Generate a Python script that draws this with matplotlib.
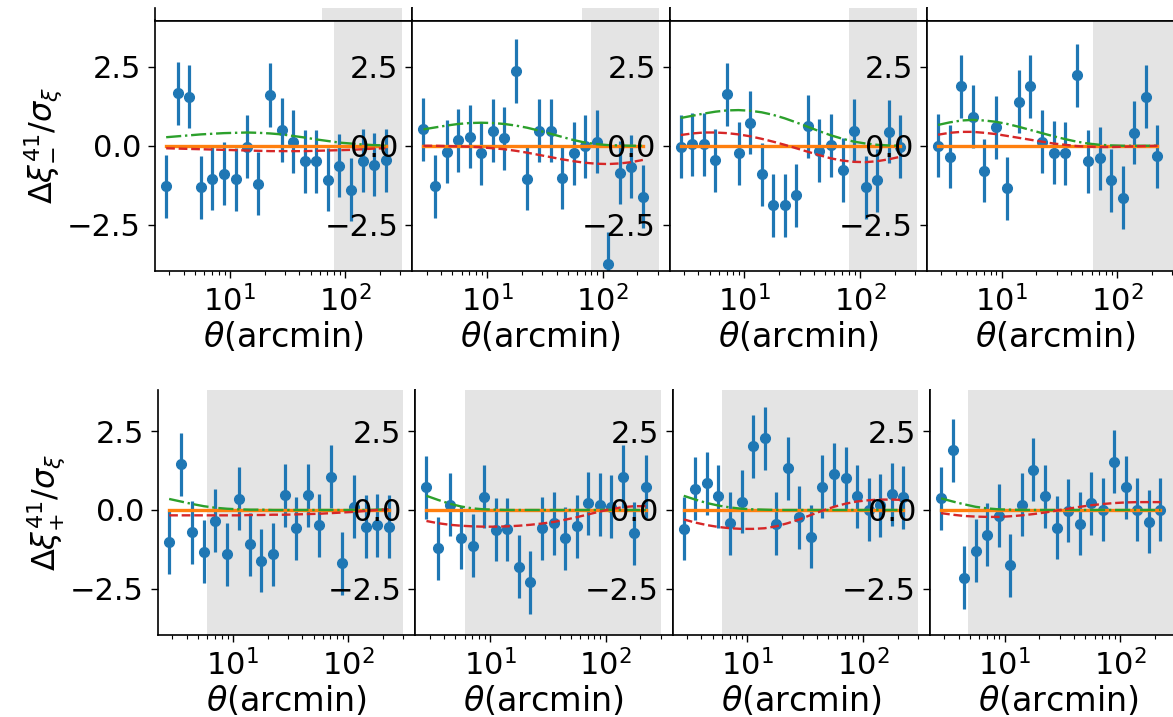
import matplotlib

matplotlib.use("Agg")
import matplotlib.pyplot as plt

# angular bin centres (arcmin)
theta = [2.81, 3.54, 4.46, 5.61, 7.07, 8.89, 11.2, 14.1, 17.7, 22.3,
         28.1, 35.4, 44.6, 56.1, 70.7, 88.9, 112.0, 141.0, 177.0, 223.0]
err = 1.0

# xi_minus residuals, one list per panel
xim_pts = [
    [-1.28, 1.66, 1.56, -1.32, -1.04, -0.88, -1.06, -0.03, -1.20, 1.61,
     0.50, 0.13, -0.49, -0.49, -1.07, -0.63, -1.39, -0.48, -0.60, -0.46],
    [0.52, -1.28, -0.19, 0.18, 0.29, -0.24, 0.47, 0.23, 2.37, -1.04,
     0.47, 0.48, -1.01, -0.24, -0.01, 0.13, -3.74, -0.86, -0.67, -1.62],
    [-0.03, 0.05, 0.05, -0.46, 1.63, -0.24, 0.73, -0.90, -1.88, -1.88,
     -1.57, 0.62, -0.16, 0.02, -0.77, 0.47, -1.32, -1.09, 0.44, -0.03],
    [0.00, -0.35, 1.89, 0.92, -0.79, 0.58, -1.35, 1.40, 1.89, 0.13,
     -0.22, -0.24, 2.24, -0.49, -0.40, -1.09, -1.65, 0.41, 1.56, -0.33],
]
xim_green = [
    [0.27, 0.30, 0.33, 0.36, 0.38, 0.40, 0.41, 0.42, 0.41, 0.39,
     0.36, 0.31, 0.26, 0.20, 0.15, 0.10, 0.07, 0.04, 0.02, 0.01],
    [0.52, 0.58, 0.64, 0.69, 0.72, 0.73, 0.72, 0.69, 0.64, 0.57,
     0.48, 0.38, 0.28, 0.18, 0.10, 0.05, 0.02, 0.01, 0.00, 0.00],
    [0.88, 0.95, 1.02, 1.08, 1.12, 1.13, 1.11, 1.06, 0.98, 0.87,
     0.74, 0.60, 0.46, 0.33, 0.22, 0.13, 0.07, 0.03, 0.01, 0.00],
    [0.66, 0.74, 0.80, 0.82, 0.80, 0.76, 0.69, 0.60, 0.50, 0.40,
     0.30, 0.21, 0.13, 0.07, 0.03, 0.01, 0.00, 0.00, 0.00, 0.00],
]
xim_red = [
    [-0.08, -0.09, -0.10, -0.11, -0.12, -0.13, -0.14, -0.15, -0.16, -0.17,
     -0.17, -0.17, -0.17, -0.16, -0.15, -0.14, -0.13, -0.11, -0.09, -0.08],
    [0.00, 0.00, -0.01, -0.02, -0.03, -0.05, -0.08, -0.11, -0.16, -0.22,
     -0.29, -0.36, -0.43, -0.49, -0.54, -0.57, -0.58, -0.56, -0.52, -0.45],
    [0.34, 0.39, 0.42, 0.42, 0.40, 0.36, 0.30, 0.22, 0.13, 0.03,
     -0.08, -0.19, -0.30, -0.40, -0.47, -0.51, -0.52, -0.49, -0.43, -0.35],
    [0.35, 0.41, 0.44, 0.44, 0.41, 0.37, 0.31, 0.25, 0.19, 0.13,
     0.07, 0.03, -0.01, -0.03, -0.04, -0.04, -0.03, -0.02, -0.01, 0.00],
]

# xi_plus residuals
xip_pts = [
    [-1.03, 1.45, -0.71, -1.32, -0.34, -1.41, 0.35, -1.09, -1.61, -1.41,
     0.46, -0.58, 0.46, -0.48, 1.06, -1.69, 0.10, -0.53, -0.48, -0.53],
    [0.72, -1.22, 0.16, -0.88, -1.13, 0.42, -0.63, -0.61, -1.80, -2.30,
     -0.58, -0.42, -0.90, -0.51, 0.21, 0.16, 0.10, 1.06, -0.74, 0.74],
    [-0.60, 0.67, 0.85, 0.44, -0.42, 0.26, 2.03, 2.28, -0.44, 1.33,
     -0.23, -0.85, 0.74, 1.14, 1.01, 0.44, 0.00, 0.15, 0.50, 0.40],
    [0.37, 1.90, -2.15, -1.29, -0.79, -0.18, -1.75, 0.16, 1.27, 0.44,
     -0.56, -0.03, -0.44, 0.21, 0.00, 1.53, 0.72, 0.00, -0.37, 0.00],
]
xip_green = [
    [0.35, 0.27, 0.19, 0.12, 0.07, 0.04, 0.02, 0.01, 0.01, 0.00,
     0.00, 0.00, 0.00, 0.00, 0.00, 0.00, 0.00, 0.00, 0.01, 0.02],
    [0.45, 0.32, 0.20, 0.11, 0.05, 0.02, 0.01, 0.00, 0.00, 0.00,
     0.00, 0.00, 0.00, 0.00, 0.00, 0.00, 0.00, 0.00, 0.00, 0.00],
    [0.45, 0.33, 0.22, 0.14, 0.08, 0.04, 0.02, 0.01, 0.00, 0.00,
     0.00, 0.00, 0.00, 0.00, 0.00, 0.00, 0.00, 0.00, 0.00, 0.00],
    [0.37, 0.27, 0.18, 0.10, 0.05, 0.02, 0.01, 0.00, 0.00, 0.00,
     0.00, 0.00, 0.00, 0.00, 0.00, 0.00, 0.00, 0.00, 0.00, 0.00],
]
xip_red = [
    [-0.17, -0.17, -0.17, -0.17, -0.17, -0.17, -0.17, -0.16, -0.16, -0.15,
     -0.15, -0.14, -0.13, -0.12, -0.10, -0.08, -0.06, -0.03, 0.00, 0.02],
    [-0.35, -0.42, -0.47, -0.50, -0.52, -0.53, -0.53, -0.52, -0.50, -0.47,
     -0.43, -0.38, -0.31, -0.23, -0.14, -0.05, 0.03, 0.09, 0.12, 0.12],
    [-0.30, -0.40, -0.48, -0.54, -0.58, -0.60, -0.60, -0.58, -0.52, -0.42,
     -0.30, -0.16, -0.02, 0.10, 0.20, 0.27, 0.31, 0.33, 0.33, 0.32],
    [-0.10, -0.15, -0.19, -0.21, -0.22, -0.22, -0.20, -0.17, -0.13, -0.08,
     -0.02, 0.04, 0.10, 0.15, 0.19, 0.22, 0.24, 0.25, 0.25, 0.25],
]
zero_model = [0.0, 0.0, 0.0, 0.0, 0.0, 0.0, 0.0, 0.0, 0.0, 0.0,
              0.0, 0.0, 0.0, 0.0, 0.0, 0.0, 0.0, 0.0, 0.0, 0.0]

# excluded scale ranges (arcmin)
xim_cut = [(80, 310), (80, 310), (80, 310), (62, 310)]
xip_cut = [(6.0, 300), (6.1, 300), (6.0, 300), (4.8, 300)]
above_cut = [(63, 310), (66, 310), (80, 310), None]

W, H = 1173, 717
XLIM = (2.25, 380)
FS = 22
LABEL_FS = 24

fig = plt.figure(figsize=(W / 100, H / 100), dpi=100)
fig.patch.set_facecolor("white")


def px_axes(left, top, right, bottom):
    return fig.add_axes([left / W, 1 - bottom / H, (right - left) / W, (bottom - top) / H])


def style(ax):
    ax.set_xscale("log")
    ax.set_xlim(*XLIM)
    ax.set_yticks([-2.5, 0.0, 2.5])
    ax.tick_params(axis="both", which="major", labelsize=FS, length=5, width=1, pad=5)
    ax.tick_params(axis="both", which="minor", length=3, width=0.8)
    for s in ax.spines.values():
        s.set_linewidth(1.2)


def draw_panel(ax, pts, green, red, cut):
    ax.axvspan(cut[0], cut[1], color="lightgray", alpha=0.6, lw=0, zorder=0)
    ax.errorbar(theta, pts, yerr=err, fmt="o", color="tab:blue", ms=7,
                elinewidth=2.3, capsize=0, zorder=2)
    ax.plot(theta, zero_model, color="tab:orange", lw=2.4, zorder=3)
    ax.plot(theta, green, color="tab:green", lw=1.7, ls="-.", zorder=4)
    ax.plot(theta, red, color="tab:red", lw=1.7, ls="--", zorder=4)


pw = 257.3
# strip of the row above, cropped
for i in range(4):
    ax = px_axes(155 + i * pw, 8, 155 + (i + 1) * pw, 20.5)
    ax.set_xscale("log")
    ax.set_xlim(*XLIM)
    ax.set_ylim(0, 1)
    if above_cut[i] is not None:
        ax.axvspan(above_cut[i][0], above_cut[i][1], color="lightgray", alpha=0.6, lw=0)
    ax.set_xticks([])
    ax.set_xticks([], minor=True)
    ax.set_yticks([])
    ax.spines["top"].set_visible(False)
    for s in ax.spines.values():
        s.set_linewidth(1.2)

for i in range(4):
    ax = px_axes(155 + i * pw, 20.5, 155 + (i + 1) * pw, 271)
    draw_panel(ax, xim_pts[i], xim_green[i], xim_red[i], xim_cut[i])
    style(ax)
    ax.set_ylim(-3.97, 3.97)
    ax.set_xlabel(r"$\theta$(arcmin)", fontsize=LABEL_FS, labelpad=2)
    if i == 0:
        ax.set_ylabel(r"$\Delta\xi^{41}_{-}/\sigma_\xi$", fontsize=23, labelpad=2)

for i in range(4):
    ax = px_axes(158 + i * pw, 390, 158 + (i + 1) * pw, 635)
    draw_panel(ax, xip_pts[i], xip_green[i], xip_red[i], xip_cut[i])
    style(ax)
    ax.spines["top"].set_visible(False)
    ax.set_ylim(-3.97, 3.81)
    ax.set_xlabel(r"$\theta$(arcmin)", fontsize=LABEL_FS, labelpad=2)
    if i == 0:
        ax.set_ylabel(r"$\Delta\xi^{41}_{+}/\sigma_\xi$", fontsize=23, labelpad=2)

fig.savefig("out.png", dpi=100, facecolor="white")
